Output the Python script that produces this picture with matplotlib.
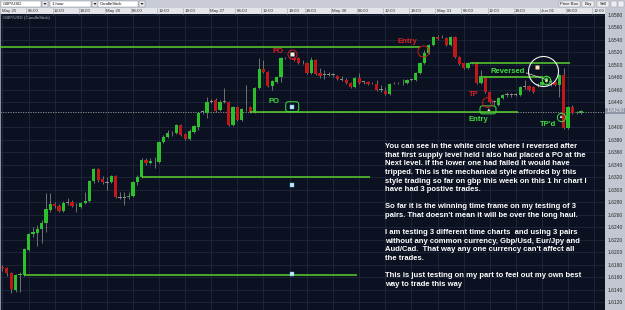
import matplotlib
matplotlib.use("Agg")
import matplotlib.pyplot as plt
import numpy as np
from matplotlib.patches import Rectangle, FancyBboxPatch, Polygon
from matplotlib.transforms import Affine2D, ScaledTranslation, blended_transform_factory

# GBP/USD 1 hour candles, May 25 - Jun 01
opens = [1.6176, 1.6175, 1.6167, 1.6139, 1.6163, 1.6163, 1.6203, 1.6229, 1.6231, 1.6237,
         1.6247, 1.6267, 1.6277, 1.6274, 1.6266, 1.6279, 1.6280, 1.6274, 1.6272, 1.6279,
         1.6282, 1.6314, 1.6333, 1.6317, 1.6312, 1.6312, 1.6322, 1.6288, 1.6288, 1.6288,
         1.6290, 1.6312, 1.6320, 1.6348, 1.6343, 1.6346, 1.6344, 1.6376, 1.6384, 1.6391,
         1.6391, 1.6404, 1.6389, 1.6381, 1.6392, 1.6401, 1.6425, 1.6423, 1.6442, 1.6444,
         1.6428, 1.6441, 1.6441, 1.6404, 1.6433, 1.6412, 1.6431, 1.6433, 1.6425, 1.6463,
         1.6493, 1.6489, 1.6466, 1.6473, 1.6481, 1.6511, 1.6511, 1.6511, 1.6511, 1.6503,
         1.6503, 1.6487, 1.6508, 1.6487, 1.6484, 1.6485, 1.6484, 1.6482, 1.6477, 1.6476,
         1.6471, 1.6465, 1.6479, 1.6473, 1.6473, 1.6471, 1.6469, 1.6460, 1.6458, 1.6453,
         1.6471, 1.6471, 1.6471, 1.6471, 1.6476, 1.6476, 1.6487, 1.6503, 1.6519, 1.6532,
         1.6545, 1.6544, 1.6543, 1.6532, 1.6545, 1.6513, 1.6503, 1.6495, 1.6503, 1.6503,
         1.6471, 1.6479, 1.6457, 1.6441, 1.6436, 1.6447, 1.6452, 1.6452, 1.6452, 1.6452,
         1.6465, 1.6466, 1.6465, 1.6468, 1.6468, 1.6473, 1.6473, 1.6473, 1.6468, 1.6484,
         1.6399, 1.6433, 1.6423, 1.6423]
highs = [1.6179, 1.6177, 1.6168, 1.6165, 1.6168, 1.6207, 1.6231, 1.6240, 1.6243, 1.6251,
         1.6295, 1.6295, 1.6280, 1.6277, 1.6282, 1.6287, 1.6284, 1.6279, 1.6280, 1.6296,
         1.6316, 1.6335, 1.6335, 1.6322, 1.6320, 1.6324, 1.6324, 1.6296, 1.6296, 1.6296,
         1.6314, 1.6324, 1.6351, 1.6351, 1.6351, 1.6352, 1.6378, 1.6388, 1.6396, 1.6394,
         1.6405, 1.6405, 1.6391, 1.6397, 1.6404, 1.6425, 1.6428, 1.6449, 1.6445, 1.6447,
         1.6444, 1.6463, 1.6442, 1.6434, 1.6434, 1.6431, 1.6468, 1.6434, 1.6465, 1.6511,
         1.6508, 1.6490, 1.6476, 1.6482, 1.6513, 1.6513, 1.6513, 1.6513, 1.6513, 1.6508,
         1.6505, 1.6513, 1.6509, 1.6495, 1.6492, 1.6489, 1.6487, 1.6484, 1.6482, 1.6479,
         1.6473, 1.6481, 1.6487, 1.6474, 1.6474, 1.6473, 1.6476, 1.6468, 1.6465, 1.6471,
         1.6473, 1.6473, 1.6477, 1.6477, 1.6477, 1.6489, 1.6505, 1.6524, 1.6534, 1.6546,
         1.6548, 1.6548, 1.6545, 1.6546, 1.6546, 1.6514, 1.6505, 1.6505, 1.6505, 1.6505,
         1.6492, 1.6481, 1.6458, 1.6444, 1.6449, 1.6453, 1.6457, 1.6455, 1.6455, 1.6466,
         1.6476, 1.6468, 1.6466, 1.6471, 1.6474, 1.6481, 1.6476, 1.6474, 1.6485, 1.6495,
         1.6434, 1.6436, 1.6426, 1.6428]
lows = [1.6170, 1.6162, 1.6134, 1.6136, 1.6136, 1.6162, 1.6202, 1.6224, 1.6210, 1.6215,
        1.6232, 1.6264, 1.6271, 1.6264, 1.6264, 1.6276, 1.6272, 1.6264, 1.6271, 1.6277,
        1.6280, 1.6311, 1.6312, 1.6309, 1.6300, 1.6311, 1.6287, 1.6285, 1.6276, 1.6285,
        1.6288, 1.6308, 1.6319, 1.6340, 1.6341, 1.6335, 1.6343, 1.6375, 1.6383, 1.6386,
        1.6389, 1.6386, 1.6380, 1.6380, 1.6391, 1.6396, 1.6421, 1.6415, 1.6439, 1.6425,
        1.6426, 1.6439, 1.6402, 1.6402, 1.6410, 1.6410, 1.6426, 1.6423, 1.6423, 1.6461,
        1.6487, 1.6465, 1.6460, 1.6471, 1.6473, 1.6509, 1.6509, 1.6506, 1.6501, 1.6501,
        1.6485, 1.6485, 1.6484, 1.6479, 1.6477, 1.6482, 1.6481, 1.6476, 1.6474, 1.6469,
        1.6463, 1.6463, 1.6469, 1.6469, 1.6468, 1.6469, 1.6458, 1.6457, 1.6452, 1.6452,
        1.6469, 1.6469, 1.6468, 1.6469, 1.6474, 1.6474, 1.6485, 1.6501, 1.6517, 1.6530,
        1.6540, 1.6543, 1.6530, 1.6530, 1.6511, 1.6500, 1.6493, 1.6493, 1.6501, 1.6469,
        1.6469, 1.6455, 1.6439, 1.6436, 1.6434, 1.6445, 1.6449, 1.6449, 1.6450, 1.6450,
        1.6461, 1.6458, 1.6455, 1.6465, 1.6466, 1.6471, 1.6466, 1.6466, 1.6449, 1.6397,
        1.6397, 1.6421, 1.6421, 1.6422]
closes = [1.6175, 1.6167, 1.6141, 1.6163, 1.6165, 1.6205, 1.6229, 1.6232, 1.6237, 1.6247,
          1.6269, 1.6277, 1.6274, 1.6266, 1.6279, 1.6279, 1.6274, 1.6274, 1.6279, 1.6282,
          1.6314, 1.6333, 1.6316, 1.6312, 1.6312, 1.6322, 1.6288, 1.6288, 1.6288, 1.6290,
          1.6312, 1.6320, 1.6348, 1.6343, 1.6346, 1.6346, 1.6376, 1.6384, 1.6391, 1.6391,
          1.6404, 1.6388, 1.6381, 1.6394, 1.6402, 1.6423, 1.6425, 1.6441, 1.6442, 1.6426,
          1.6441, 1.6441, 1.6404, 1.6433, 1.6412, 1.6429, 1.6431, 1.6425, 1.6463, 1.6493,
          1.6489, 1.6466, 1.6474, 1.6481, 1.6511, 1.6511, 1.6511, 1.6508, 1.6503, 1.6503,
          1.6487, 1.6508, 1.6485, 1.6482, 1.6484, 1.6485, 1.6484, 1.6477, 1.6477, 1.6471,
          1.6465, 1.6479, 1.6471, 1.6473, 1.6469, 1.6471, 1.6460, 1.6460, 1.6453, 1.6469,
          1.6471, 1.6471, 1.6471, 1.6476, 1.6476, 1.6487, 1.6503, 1.6519, 1.6532, 1.6545,
          1.6542, 1.6545, 1.6532, 1.6545, 1.6513, 1.6501, 1.6495, 1.6503, 1.6503, 1.6471,
          1.6479, 1.6457, 1.6441, 1.6441, 1.6447, 1.6452, 1.6452, 1.6452, 1.6452, 1.6465,
          1.6465, 1.6460, 1.6457, 1.6468, 1.6473, 1.6479, 1.6473, 1.6468, 1.6484, 1.6399,
          1.6433, 1.6423, 1.6423, 1.6426]

time_ticks = [0, 6, 12, 18, 24, 30, 36, 42, 48, 54, 60, 66, 70, 76, 82, 88, 94, 100,
              106, 112, 118, 124, 130, 136]
time_labels = ["May 25", "06:00", "12:00", "18:00", "May 26", "06:00", "12:00", "18:00",
               "May 27", "06:00", "12:00", "18:00", "18:00", "May 30", "06:00", "12:00",
               "18:00", "May 31", "06:00", "12:00", "18:00", "Jun 01", "06:00", "12:00"]
price_ticks = [1.6120, 1.6140, 1.6160, 1.6180, 1.6200, 1.6220, 1.6240, 1.6260, 1.6280,
               1.6300, 1.6320, 1.6340, 1.6360, 1.6380, 1.6400, 1.6440, 1.6460, 1.6480,
               1.6500, 1.6520, 1.6540, 1.6560, 1.6580]
current_price = 1.6425

# drawn support / resistance levels: price, first bar, last bar
level_price = [1.6529, 1.6503, 1.6481, 1.6424, 1.6320, 1.6164]
level_start = [-0.6, 107.5, 109.5, 56.9, 32.1, 4.9]
level_end = [96.0, 130.5, 124.3, 118.5, 84.5, 81.5]

# pending order markers (bar, price)
order_bar = [66.6, 66.6, 66.6]
order_price = [1.6433, 1.6308, 1.6165]

GREEN = "#2cc02c"
RED = "#c01818"
GREY = "#8c8c8c"
LINE = "#5ad02e"
BG = "#0b1120"
PANEL = "#c3c7d1"

fig = plt.figure(figsize=(6.25, 3.1), dpi=100, facecolor=PANEL)
# figure pixel coords, origin top left
pix = Affine2D().scale(1 / 100, -1 / 100).translate(0, 3.1) + fig.dpi_scale_trans

ax = fig.add_axes([0, 0, 605 / 625, 296 / 310], facecolor=BG)
ax.set_xlim(-0.57, 138.5)
ax.set_ylim(1.61073, 1.65816)

for s in ax.spines.values():
    s.set_visible(False)
ax.spines["left"].set_visible(True)
ax.spines["left"].set_color("#8a90a0")

ax.set_xticks(time_ticks)
ax.set_xticklabels([])
ax.tick_params(axis="x", length=0)
ax.yaxis.tick_right()
ax.set_yticks(price_ticks)
ax.set_yticklabels([f"{p:.4f}" for p in price_ticks], fontsize=3.6, color="#2a2a2a",
                   family="Liberation Sans")
ax.tick_params(axis="y", length=0, pad=2)
ax.grid(True, color="#1d283b", lw=0.6)
ax.set_axisbelow(True)

# candles
idx = np.arange(len(opens))
o = np.array(opens)
c = np.array(closes)
up = c > o + 1e-6
down = c < o - 1e-6
colors = np.where(up, GREEN, np.where(down, RED, GREY))
ax.vlines(idx, lows, highs, color="#808080", lw=0.6, zorder=2)
body = np.maximum(np.abs(c - o), 0.00014)
bottom = np.where(up | down, np.minimum(o, c), o - 0.00007)
ax.bar(idx, body, bottom=bottom, width=0.75, color=colors, lw=0, zorder=3)

# current price line
ax.axhline(current_price, color="#9a9a9a", lw=0.6, ls=(0, (1.5, 1.5)), zorder=1)

# horizontal levels
ax.hlines(level_price, level_start, level_end, color=LINE, lw=1.1, zorder=4)

# orders
ax.plot(order_bar, order_price, "s", ms=2.2, mfc="#bfe8ff", mec="#6fb8d8", mew=0.3, zorder=6)


def px_off(xd, yd):
    return fig.dpi_scale_trans + ScaledTranslation(xd, yd, ax.transData)


def rbox(xd, yd, w, h, color):
    ax.add_patch(FancyBboxPatch((-w / 200, -h / 200), w / 100, h / 100,
                                boxstyle="round,pad=0,rounding_size=0.025",
                                fc="none", ec=color, lw=0.7,
                                transform=px_off(xd, yd), zorder=6))


def tri(xd, yd):
    ax.add_patch(Polygon([(-0.015, -0.012), (0.015, -0.012), (0, 0.015)], closed=True,
                         fc="#e8e8f4", ec="none", transform=px_off(xd, yd), zorder=7))


lab = dict(family="Liberation Sans", fontweight="bold", fontsize=5.5, ha="center",
           va="center", zorder=8)

# PO (sell) at the top
ax.text(63.3, 1.6521, "PO", color="#e02020", **lab)
ax.plot(66.6, 1.6517, "o", ms=6.5, mfc="none", mec="#d01c1c", mew=0.7, zorder=7)
ax.plot(66.6, 1.6517, "s", ms=2.2, mfc="#fff4e0", mec="none", zorder=8)
# PO (buy)
ax.text(62.4, 1.6442, "PO", color="#3ee03e", **lab)
rbox(66.6, 1.6433, 13, 10, "#3ee03e")

# entry short
ax.text(93.0, 1.6538, "Entry", color="#e02020", **lab)
ax.plot(96.7, 1.6522, "o", ms=8, mfc="none", mec="#d01c1c", mew=0.7, zorder=7)

# TP / long entry
ax.text(108.4, 1.6452, "TP", color="#e02020", **lab)
ax.plot(111.4, 1.6441, "o", ms=7, mfc="none", mec="#d01c1c", mew=0.7, zorder=7)
rbox(111.6, 1.6428, 16, 8, "#3ee03e")
tri(111.8, 1.6428)
ax.text(109.3, 1.6412, "Entry", color="#3ee03e", **lab)

# reversed
ax.text(116.2, 1.6490, "Reversed", color="#3ee03e",
        bbox=dict(fc=BG, ec="none", pad=0.3), **lab)
ax.plot([120.1, 124.7], [1.6488, 1.6477], color="#dddddd", lw=0.5, zorder=7)
ax.plot(124.9, 1.6476, "o", ms=6, mfc="none", mec="#3ee03e", mew=0.8, zorder=7)
ax.plot(124.9, 1.6476, "s", ms=2, mfc="#fff0d0", mec="none", zorder=8)
ax.plot(122.9, 1.6497, "s", ms=2.4, mfc="#ffe0b0", mec="none", zorder=8)
ax.plot(124.3, 1.6490, "o", ms=21.6, mfc="none", mec="#f2f2f2", mew=0.8, zorder=7)

# TP'd
ax.text(125.4, 1.6405, "TP'd", color="#3ee03e", **lab)
ax.plot(128.4, 1.6417, "o", ms=6, mfc="none", mec="#3ee03e", mew=0.7, zorder=7)
tri(128.4, 1.6417)

ax.text(3, 17.5, "GBP/USD (CandleStick)", transform=pix, fontsize=3.2, color="#b0b4c0",
        family="Liberation Sans", va="center", ha="left")

note = ("You can see in the white circle where I reversed after\n"
        "that first supply level held I also had placed a PO at the\n"
        "Next level. if the lower one had failed it would have\n"
        "tripped. This is the mechanical style afforded by this\n"
        "style trading so far on gbp this week on this 1 hr chart I\n"
        "have had 3 postive trades.\n"
        "\n"
        "So far it is the winning time frame on my testing of 3\n"
        "pairs. That doesn't mean it will be over the long haul.\n"
        "\n"
        "I am testing 3 different time charts  and using 3 pairs\n"
        "without any common currency, Gbp/Usd, Eur/Jpy and\n"
        "Aud/Cad.  That way any one currency can't affect all\n"
        "the trades.\n"
        "\n"
        "This is just testing on my part to feel out my own best\n"
        "way to trade this way")
t = ax.text(385, 143.2, note, transform=pix, fontsize=5.5, color="white",
            family="Liberation Sans", fontweight="bold", va="top", ha="left",
            linespacing=1.32, zorder=9, clip_on=True)
t.set_clip_path(ax.patch)

# current price box on the price axis
fig.add_artist(Rectangle((605, 108), 20, 6, transform=pix, fc="#8f96a8", ec="none"))
fig.text(607, 111, f"{current_price:.5f}", transform=pix, fontsize=3.6, color="#f4f4f4",
         family="Liberation Sans", va="center", ha="left")

# time axis band
fig.add_artist(Rectangle((0, 8), 605, 6, transform=pix, fc="#e4e5ea", ec="none"))
tband = blended_transform_factory(ax.transData, pix)
for tk, tl in zip(time_ticks, time_labels):
    fig.add_artist(plt.Line2D([tk - 0.5, tk - 0.5], [8, 14], transform=tband,
                              color="#a0a4b0", lw=0.4))
    fig.text(tk - 0.2, 11.2, tl, transform=tband, fontsize=3.2, color="#333333",
             family="Liberation Sans", va="center", ha="left")

# toolbar
fig.add_artist(Rectangle((0, 0), 625, 8, transform=pix, fc="#c9ccd4", ec="none"))
for x0, w, txt in [(1, 40, "GBP/USD"), (50, 41, "1 hour"), (98, 40, "CandleStick")]:
    fig.add_artist(Rectangle((x0, 1), w, 5.8, transform=pix, fc="white", ec="#7a7f8c", lw=0.3))
    fig.add_artist(Rectangle((x0 + w + 1, 1), 5.5, 5.8, transform=pix, fc="#e8e8ec",
                             ec="#7a7f8c", lw=0.3))
    fig.add_artist(Polygon([(x0 + w + 2.5, 3), (x0 + w + 5.5, 3), (x0 + w + 4, 5)],
                           transform=pix, fc="#222222", ec="none"))
    fig.text(x0 + 1.5, 4, txt, transform=pix, fontsize=3.1, color="#111111",
             family="Liberation Sans", va="center", ha="left")
for x0, w, txt in [(559, 21, "Price Box"), (582, 12, "Buy"), (597, 12, "Sell")]:
    fig.add_artist(Rectangle((x0, 1), w, 5.8, transform=pix, fc="#eeeef2", ec="#8a8f9c", lw=0.3))
    fig.text(x0 + w / 2, 4, txt, transform=pix, fontsize=3.1, color="#111111",
             family="Liberation Sans", va="center", ha="center")
for x0 in [611, 618]:
    fig.add_artist(Rectangle((x0, 1), 6, 5.8, transform=pix, fc="#eeeef2", ec="#8a8f9c", lw=0.3))

fig.savefig("out.png", dpi=100, facecolor=PANEL)
